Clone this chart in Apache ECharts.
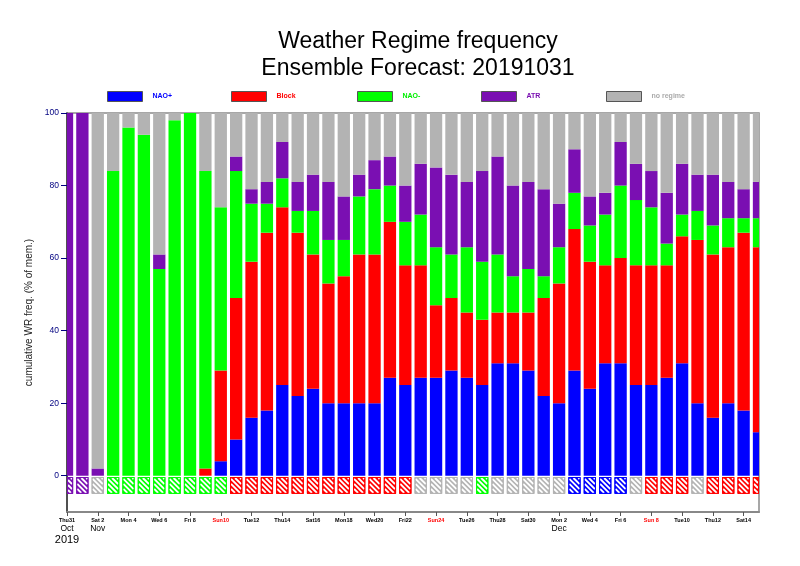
<!DOCTYPE html>
<html><head><meta charset="utf-8">
<script src="https://cdn.jsdelivr.net/npm/echarts@6/dist/echarts.min.js"></script>
<style>html,body{margin:0;padding:0;background:#fff}#c{width:800px;height:566px}</style>
</head><body><div id="c"></div>
<script>
// forecast day index (0 = Thu 31 Oct 2019)
const days = [0,1,2,3,4,5,6,7,8,9,10,11,12,13,14,15,16,17,18,19,20,21,22,23,24,25,26,27,28,29,30,31,32,33,34,35,36,37,38,39,40,41,42,43,44,45];
// frequency of each regime (% of members)
const naoPlus  = [0,0,0,0,0,0,0,0,0,0,4,10,16,18,25,22,24,20,20,20,20,27,25,27,27,29,27,25,31,31,29,22,20,29,24,31,31,25,25,27,31,20,16,20,18,12];
const block    = [0,0,0,0,0,0,0,0,0,2,25,39,43,49,49,45,37,33,35,41,41,43,33,31,20,20,18,18,14,14,16,27,33,39,35,27,29,33,33,31,35,45,45,43,49,51];
const naoMinus = [0,0,0,84,96,94,57,98,100,82,45,35,16,8,8,6,12,12,10,16,18,10,12,14,16,12,18,16,16,10,12,6,10,10,10,14,20,18,16,6,6,8,8,8,4,8];
const atr      = [100,100,2,0,0,0,4,0,0,0,0,4,4,6,10,8,10,16,12,6,8,8,10,14,22,22,18,25,27,25,24,24,12,12,8,6,12,10,10,14,14,10,14,10,8,10];
const noRegime = [0,0,98,16,4,6,39,2,0,16,26,12,21,19,8,19,17,19,23,17,13,12,20,14,15,17,19,16,12,20,19,21,25,10,23,22,8,14,16,22,14,17,17,19,21,19];
// regime of the hatched box under each bar
const boxRegime = ['ATR','ATR','no regime','NAO-','NAO-','NAO-','NAO-','NAO-','NAO-','NAO-','NAO-',
  'Block','Block','Block','Block','Block','Block','Block','Block','Block','Block','Block','Block',
  'no regime','no regime','no regime','no regime','NAO-','no regime','no regime','no regime','no regime','no regime',
  'NAO+','NAO+','NAO+','NAO+','no regime','Block','Block','Block','no regime','Block','Block','Block','Block'];
const boxTop = -0.35, boxBottom = -5;
// x tick labels (every second day)
const tickDays = [0,2,4,6,8,10,12,14,16,18,20,22,24,26,28,30,32,34,36,38,40,42,44];
const tickLabels = ['Thu31','Sat 2','Mon 4','Wed 6','Fri 8','Sun10','Tue12','Thu14','Sat16','Mon18','Wed20','Fri22','Sun24','Tue26','Thu28','Sat30','Mon 2','Wed 4','Fri 6','Sun 8','Tue10','Thu12','Sat14'];
const tickMonths = ['Oct','Nov','','','','','','','','','','','','','','','Dec','','','','','',''];
const tickYears = ['2019'];
const yTicks = [0,20,40,60,80,100];

const names = ['NAO+','Block','NAO-','ATR','no regime'];
const colors = {'NAO+':'#0000ff','Block':'#ff0000','NAO-':'#00ff00','ATR':'#7a0fb2','no regime':'#b3b3b3'};
const textColors = ['#0000ff','#ff0000','#00ee00','#7a0fb2','#aaaaaa'];
const values = [naoPlus, block, naoMinus, atr, noRegime];
const legendLeft = [107,231,357,481,606];
const FONT = 'Liberation Sans, Arial, sans-serif';
const BAR_FRAC = 0.8;

function gridRect(params){
  const c = params.coordSys;
  return {x:c.x, y:c.y, width:c.width, height:c.height};
}

// stacked segments: [day, start, end]
const series = [];
const running = days.map(()=>0);
names.forEach((n,i)=>{
  const data = days.map((d,j)=>{
    const s = running[j], e = s + values[i][j];
    running[j] = e;
    return [d, s, e];
  });
  series.push({
    name:n, type:'custom', itemStyle:{color:colors[n]},
    encode:{x:0, y:[1,2]},
    data:data,
    renderItem:function(params, api){
      const x = api.value(0), s = api.value(1), e = api.value(2);
      if(!(e > s)) return null;
      const p0 = api.coord([x, s]), p1 = api.coord([x, e]);
      const w = api.size([1,0])[0]*BAR_FRAC;
      const r = echarts.graphic.clipRectByRect(
        {x:p0[0]-w/2, y:p1[1], width:w, height:p0[1]-p1[1]}, gridRect(params));
      if(!r) return null;
      return {type:'rect', shape:r, style:{fill:colors[n]}};
    }
  });
});

// hatched dominant-regime boxes
series.push({
  name:'box', type:'custom', silent:true,
  encode:{x:0, y:[1,2]},
  data: days.map((d,j)=>[d, boxBottom, boxTop, j]),
  renderItem:function(params, api){
    const x = api.value(0), b = api.value(1), t = api.value(2), j = api.value(3);
    const col = colors[boxRegime[j]];
    const p0 = api.coord([x, b]), p1 = api.coord([x, t]);
    const w = api.size([1,0])[0]*BAR_FRAC;
    const full = {x:p0[0]-w/2, y:p1[1], width:w, height:p0[1]-p1[1]};
    const r = echarts.graphic.clipRectByRect(full, gridRect(params));
    if(!r) return null;
    const children = [{type:'rect', shape:r, style:{fill:col}}];
    // white "\" stripes (x - y = c) clipped to the box interior
    const ax = r.x+1, bx = r.x+r.width-1, ay = r.y+1, by = r.y+r.height-1;
    const step = 5;
    const cStart = full.x - (full.y + full.height) + 1;
    const cEnd = full.x + full.width - full.y;
    for(let c = cStart; c < cEnd; c += step){
      const y0 = Math.max(ay, ax - c), y1 = Math.min(by, bx - c);
      if(y1 > y0){
        children.push({type:'line', shape:{x1:y0+c, y1:y0, x2:y1+c, y2:y1}, style:{stroke:'#ffffff', lineWidth:2}});
      }
    }
    children.push({type:'rect', shape:{x:r.x+0.5, y:r.y+0.5, width:r.width-1, height:r.height-1}, style:{fill:null, stroke:col, lineWidth:1}});
    return {type:'group', children:children};
  }
});

const chart = echarts.init(document.getElementById('c'), null, {renderer:'canvas'});
chart.setOption({
  animation:false,
  backgroundColor:'#fff',
  textStyle:{fontFamily:FONT},
  title:{
    text:'Weather Regime frequency\nEnsemble Forecast: 20191031',
    left:413, top:23, textAlign:'center',
    textStyle:{fontFamily:FONT, fontSize:23, fontWeight:'normal', color:'#000', lineHeight:27}
  },
  legend: names.map((n,i)=>({
    data:[n], left:legendLeft[i], top:91, padding:0, icon:'rect', itemWidth:35, itemHeight:10,
    selectedMode:false,
    itemStyle:{borderColor:'#555', borderWidth:1},
    textStyle:{color:textColors[i], fontSize:7, fontWeight:'bold', fontFamily:FONT, padding:[0,0,0,5]}
  })),
  grid:{left:67, right:41, top:113, bottom:54, show:true, borderColor:'#8a8a8a', borderWidth:1.5, backgroundColor:'transparent'},
  xAxis:{
    type:'value', min:0, max:45,
    splitLine:{show:false},
    axisLine:{onZero:false, lineStyle:{color:'#888', width:2}},
    axisTick:{customValues:tickDays, length:4, lineStyle:{color:'#555'}},
    axisLabel:{
      customValues:tickDays, margin:4,
      formatter:function(v){
        const i = tickDays.indexOf(Number(v));
        if(i<0) return '';
        const lab = tickLabels[i];
        let s = (lab.indexOf('Sun')===0 ? '{s|' : '{d|') + lab + '}';
        if(tickMonths[i]) s += '\n{m|' + tickMonths[i] + '}';
        if(i===0) s += '\n{y|' + tickYears[0] + '}';
        return s;
      },
      rich:{
        d:{fontSize:5.5, fontWeight:'bold', color:'#000', lineHeight:8, fontFamily:FONT},
        s:{fontSize:5.5, fontWeight:'bold', color:'#ff0000', lineHeight:8, fontFamily:FONT},
        m:{fontSize:8.5, color:'#000', lineHeight:10, fontFamily:FONT},
        y:{fontSize:11, color:'#000', lineHeight:11, fontFamily:FONT}
      }
    }
  },
  yAxis:{
    type:'value', min:-10, max:100,
    name:'cumulative WR freq. (% of mem.)', nameLocation:'middle', nameGap:21,
    nameTextStyle:{fontSize:10, color:'#222', fontFamily:FONT},
    splitLine:{show:false},
    axisLine:{show:true, lineStyle:{color:'#333', width:1.5}},
    axisTick:{show:true, customValues:yTicks, length:6, lineStyle:{color:'#000080'}},
    axisLabel:{customValues:yTicks, color:'#000080', fontSize:8.5, margin:8, fontFamily:FONT}
  },
  series: series
});
</script>
</body></html>
